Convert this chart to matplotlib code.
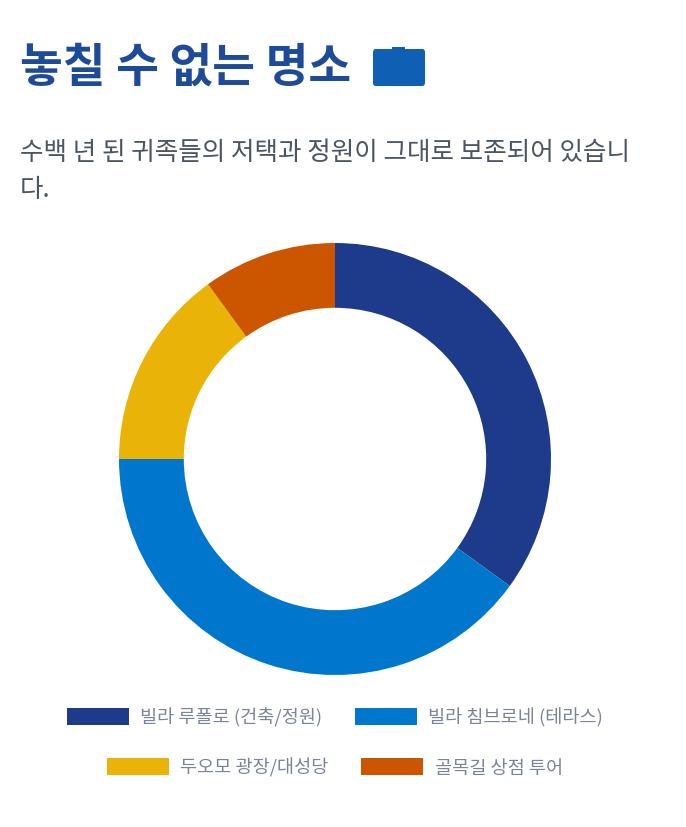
import matplotlib
matplotlib.use('Agg')
import matplotlib.pyplot as plt
from matplotlib.patches import FancyBboxPatch, Rectangle

plt.rcParams['font.family'] = ['Noto Sans CJK KR', 'DejaVu Sans']

labels = ['빌라 루폴로 (건축/정원)', '빌라 침브로네 (테라스)', '두오모 광장/대성당', '골목길 상점 투어']
values = [35, 40, 15, 10]
colors = ['#1e3a8a', '#0077cc', '#eab308', '#cc5500']

W, H = 686, 828
fig = plt.figure(figsize=(W / 100, H / 100), dpi=100)

# donut, axes placed in pixels
cx, cy, r = 335, 460, 216
ax = fig.add_axes([(cx - r) / W, 1 - (cy + r) / H, 2 * r / W, 2 * r / H])
wedges, _ = ax.pie(values, colors=colors, startangle=90, counterclock=False, radius=1,
                   wedgeprops=dict(width=0.3, linewidth=0))
ax.set_xlim(-1, 1)
ax.set_ylim(-1, 1)

fig.text(20 / W, 1 - 68 / H, '놓칠 수 없는 명소', fontsize=33.5, fontweight='bold', color='#1e4a9a',
         va='center', ha='left')
fig.text(20 / W, 1 - 153 / H, '수백 년 된 귀족들의 저택과 정원이 그대로 보존되어 있습니', fontsize=18.4,
         color='#4b5563', va='center', ha='left')
fig.text(20 / W, 1 - 190 / H, '다.', fontsize=18.4, color='#4b5563', va='center', ha='left')

# briefcase icon
fig.add_artist(FancyBboxPatch((373 / W, 1 - 87 / H), 52 / W, 37 / H, boxstyle='round,pad=0,rounding_size=0.004',
                              transform=fig.transFigure, fc='#0f5fb5', ec='none'))
fig.add_artist(Rectangle((392 / W, 1 - 51 / H), 13 / W, 3 / H, transform=fig.transFigure, fc='#0f5fb5', ec='none'))

# two centred legend rows
for idx, y in [((0, 1), 718), ((2, 3), 768)]:
    fig.legend([wedges[i] for i in idx], [labels[i] for i in idx], ncol=2, loc='center',
               bbox_to_anchor=(335 / W, 1 - y / H), frameon=False, fontsize=13.4,
               labelcolor='#7b8497', handlelength=3.33, handleheight=1.0,
               handletextpad=0.6, columnspacing=1.75)

fig.savefig('out.png', dpi=100, facecolor='white')
